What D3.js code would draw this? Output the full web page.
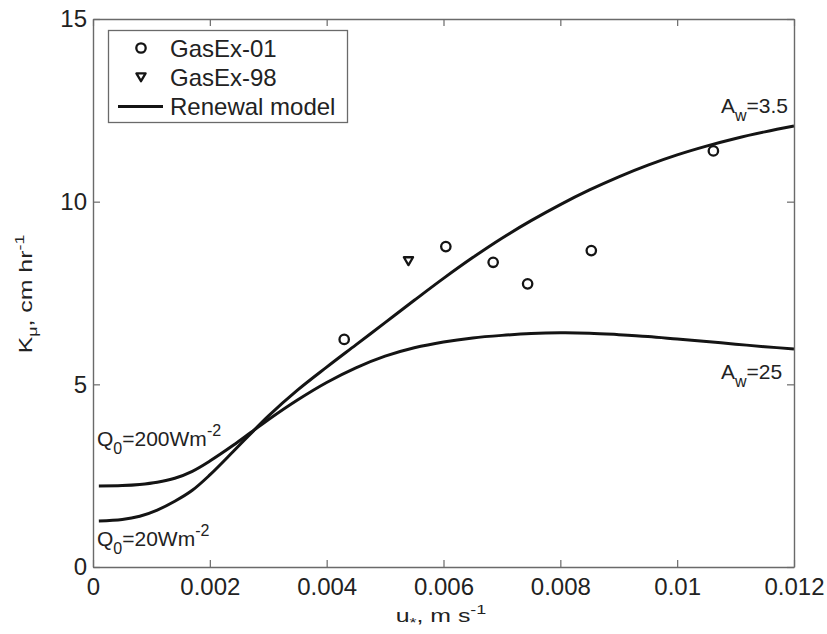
<!DOCTYPE html>
<html>
<head>
<meta charset="utf-8">
<script src="https://cdn.jsdelivr.net/npm/d3@7"></script>
<style>
  html, body { margin: 0; padding: 0; background: #ffffff; }
  svg { display: block; font-family: "Liberation Sans", Arial, sans-serif; }
</style>
</head>
<body>
<svg id="chart" width="827" height="634"></svg>
<script>
// Friction velocity grid (m/s) for the renewal-model curves
const uStar = [0.0001, 0.0005, 0.0008, 0.0011, 0.0014, 0.0017, 0.0020, 0.0024, 0.0027,
  0.0030, 0.0035, 0.0040, 0.0045, 0.0050, 0.0055, 0.0060, 0.0065, 0.0070, 0.0075,
  0.0080, 0.0085, 0.0090, 0.0095, 0.0100, 0.0105, 0.0110, 0.0115, 0.0120];

// Renewal model, Q0 = 20 W m^-2, A_w = 3.5 (cm/hr)
const kQ20Aw35 = [1.26, 1.30, 1.39, 1.56, 1.80, 2.10, 2.52, 3.16, 3.65,
  4.13, 4.84, 5.47, 6.08, 6.69, 7.30, 7.90, 8.47, 9.00, 9.48,
  9.92, 10.32, 10.68, 11.00, 11.28, 11.52, 11.73, 11.91, 12.07];

// Renewal model, Q0 = 200 W m^-2, A_w = 25 (cm/hr)
const kQ200Aw25 = [2.22, 2.23, 2.26, 2.32, 2.43, 2.62, 2.90, 3.33, 3.68,
  4.03, 4.57, 5.05, 5.45, 5.77, 6.00, 6.16, 6.27, 6.34, 6.39,
  6.41, 6.40, 6.36, 6.31, 6.24, 6.17, 6.10, 6.03, 5.97];

// Field observations
const gasEx01U = [0.00430, 0.00604, 0.00685, 0.00744, 0.00853, 0.01062];
const gasEx01K = [6.23, 8.77, 8.34, 7.75, 8.66, 11.39];
const gasEx98U = [0.00540];
const gasEx98K = [8.38];

// Axis ticks
const xTicks = [0, 0.002, 0.004, 0.006, 0.008, 0.010, 0.012];
const xTickLabels = ["0", "0.002", "0.004", "0.006", "0.008", "0.01", "0.012"];
const yTicks = [0, 5, 10, 15];
const yTickLabels = ["0", "5", "10", "15"];

const legendLabels = ["GasEx-01", "GasEx-98", "Renewal model"];

const svg = d3.select("#chart");
const W = 827, H = 634;
const plot = { left: 93, right: 794, top: 19, bottom: 567 };

svg.append("rect").attr("width", W).attr("height", H).attr("fill", "#ffffff");

const x = d3.scaleLinear().domain([0, 0.012]).range([plot.left, plot.right]);
const y = d3.scaleLinear().domain([0, 15]).range([plot.bottom, plot.top]);

const ink = "#141414";
const frameColor = "#6a6a6a";
const textColor = "#222222";

// Model curves
const line = d3.line()
  .x(d => x(d[0]))
  .y(d => y(d[1]))
  .curve(d3.curveCatmullRom.alpha(0.5));

[kQ20Aw35, kQ200Aw25].forEach(series => {
  svg.append("path")
    .datum(uStar.map((u, i) => [u, series[i]]))
    .attr("fill", "none")
    .attr("stroke", ink)
    .attr("stroke-width", 3)
    .attr("stroke-linejoin", "round")
    .attr("d", line);
});

// Axes: ticks point inward on all four sides
function styleAxis(g) {
  g.selectAll(".domain").attr("stroke", frameColor).attr("stroke-width", 1.4);
  g.selectAll(".tick line").attr("stroke", frameColor).attr("stroke-width", 1.2);
  g.selectAll(".tick text")
    .attr("fill", textColor)
    .style("font-size", "24px")
    .style("font-family", "'Liberation Sans', Arial, sans-serif");
}

svg.append("g")
  .attr("transform", `translate(0,${plot.bottom})`)
  .call(d3.axisBottom(x).tickValues(xTicks)
    .tickFormat((d, i) => xTickLabels[i])
    .tickSizeInner(-7).tickSizeOuter(0).tickPadding(11))
  .call(styleAxis);

svg.append("g")
  .attr("transform", `translate(0,${plot.top})`)
  .call(d3.axisTop(x).tickValues(xTicks).tickFormat("")
    .tickSizeInner(-7).tickSizeOuter(0))
  .call(styleAxis);

svg.append("g")
  .attr("transform", `translate(${plot.left},0)`)
  .call(d3.axisLeft(y).tickValues(yTicks)
    .tickFormat((d, i) => yTickLabels[i])
    .tickSizeInner(-7).tickSizeOuter(0).tickPadding(6))
  .call(styleAxis);

svg.append("g")
  .attr("transform", `translate(${plot.right},0)`)
  .call(d3.axisRight(y).tickValues(yTicks).tickFormat("")
    .tickSizeInner(-7).tickSizeOuter(0))
  .call(styleAxis);

// Observation markers
const markerStroke = 2.3;
svg.append("g").selectAll("circle")
  .data(gasEx01U.map((u, i) => [u, gasEx01K[i]]))
  .join("circle")
  .attr("cx", d => x(d[0]))
  .attr("cy", d => y(d[1]))
  .attr("r", 4.7)
  .attr("fill", "none")
  .attr("stroke", ink)
  .attr("stroke-width", markerStroke);

const triPath = "M-4.6,-3.6 L4.6,-3.6 L0,4.2 Z";
svg.append("g").selectAll("path")
  .data(gasEx98U.map((u, i) => [u, gasEx98K[i]]))
  .join("path")
  .attr("transform", d => `translate(${x(d[0])},${y(d[1])})`)
  .attr("d", triPath)
  .attr("fill", "none")
  .attr("stroke", ink)
  .attr("stroke-width", markerStroke)
  .attr("stroke-linejoin", "round");

// Curve annotations with sub/superscripts
function richText(parent, xPos, yPos, parts, size) {
  const t = parent.append("text")
    .attr("x", xPos).attr("y", yPos)
    .attr("fill", textColor)
    .style("font-size", size + "px");
  let shift = 0;
  parts.forEach(p => {
    const target = p.sub ? 8 : p.sup ? -10 : 0;
    t.append("tspan")
      .attr("dy", target - shift)
      .style("font-size", (p.sub || p.sup) ? Math.round(size * 0.74) + "px" : size + "px")
      .text(p.t);
    shift = target;
  });
  return t;
}

const ann = svg.append("g");
richText(ann, 97, 446, [{ t: "Q" }, { t: "0", sub: true }, { t: "=200Wm" }, { t: "-2", sup: true }], 21);
richText(ann, 97, 546, [{ t: "Q" }, { t: "0", sub: true }, { t: "=20Wm" }, { t: "-2", sup: true }], 21);
richText(ann, 721, 113, [{ t: "A" }, { t: "w", sub: true }, { t: "=3.5" }], 21);
richText(ann, 721, 379, [{ t: "A" }, { t: "w", sub: true }, { t: "=25" }], 21);

// Axis titles (wide-set lettering)
function axisTitle(transform, parts) {
  const t = svg.append("text")
    .attr("transform", transform)
    .attr("text-anchor", "middle")
    .attr("fill", textColor)
    .style("font-size", "18px");
  let shift = 0;
  parts.forEach(p => {
    const target = p.sub ? 5 : p.sup ? -8 : 0;
    t.append("tspan")
      .attr("dy", target - shift)
      .style("font-size", (p.sub || p.sup) ? "13px" : "18px")
      .text(p.t);
    shift = target;
  });
}

axisTitle(`translate(441,622) scale(1.38,1)`,
  [{ t: "u" }, { t: "*", sub: true }, { t: ", m s" }, { t: "-1", sup: true }]);
axisTitle(`translate(32,294) rotate(-90) scale(1.38,1)`,
  [{ t: "K" }, { t: "\u03bc", sub: true }, { t: ", cm hr" }, { t: "-1", sup: true }]);

// Legend
const legend = svg.append("g");
legend.append("rect")
  .attr("x", 108.5).attr("y", 30.5)
  .attr("width", 239).attr("height", 92)
  .attr("fill", "#ffffff")
  .attr("stroke", frameColor)
  .attr("stroke-width", 1.3);

const rowY = [48, 77, 106.5];
legend.append("circle")
  .attr("cx", 141).attr("cy", rowY[0]).attr("r", 4.7)
  .attr("fill", "none").attr("stroke", ink).attr("stroke-width", markerStroke);
legend.append("path")
  .attr("transform", `translate(141,${rowY[1]})`)
  .attr("d", triPath)
  .attr("fill", "none").attr("stroke", ink)
  .attr("stroke-width", markerStroke).attr("stroke-linejoin", "round");
legend.append("line")
  .attr("x1", 118).attr("x2", 163)
  .attr("y1", rowY[2]).attr("y2", rowY[2])
  .attr("stroke", ink).attr("stroke-width", 3);

legend.selectAll("text.lab")
  .data(legendLabels)
  .join("text")
  .attr("class", "lab")
  .attr("x", 170)
  .attr("y", (d, i) => rowY[i] + 8.5)
  .attr("fill", textColor)
  .style("font-size", "24px")
  .text(d => d);
</script>
</body>
</html>
